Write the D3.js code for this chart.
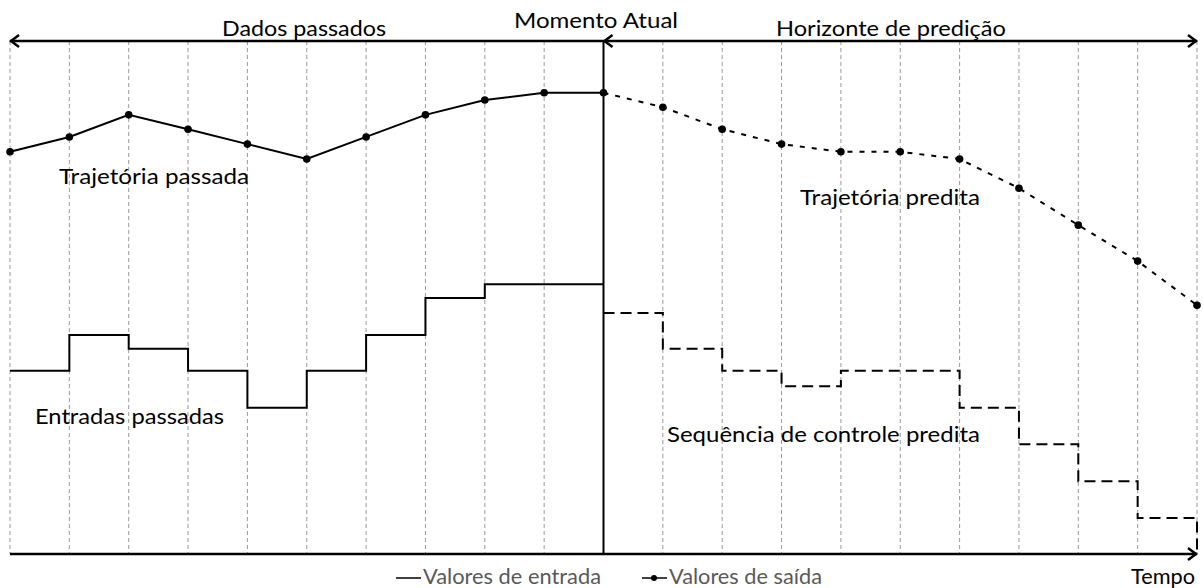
<!DOCTYPE html>
<html>
<head>
<meta charset="utf-8">
<script src="https://cdn.jsdelivr.net/npm/d3@7"></script>
<style>
  html, body { margin: 0; padding: 0; background: #fff; }
  svg text { font-family: Lato, "Open Sans", sans-serif; }
</style>
</head>
<body>
<svg id="chart" width="1203" height="588"></svg>
<script>
// ---- data ----
const steps = d3.range(0, 21);             // time steps k-10 ... k+10
const currentStep = 10;                     // "Momento Atual"
// output trajectory (past: steps 0..10, predicted: 10..20)
const outputPast = [78.4, 81.3, 85.6, 82.8, 79.9, 77.0, 81.3, 85.6, 88.5, 89.9, 89.9];
const outputPred = [89.9, 87.1, 82.8, 79.9, 78.4, 78.4, 77.0, 71.3, 64.1, 57.1, 48.5];
// input sequences (value held over each interval)
const inputPast = [35.7, 42.7, 40.0, 35.7, 28.5, 35.7, 42.7, 49.9, 52.6, 52.6];
const inputPred = [47.0, 40.0, 35.7, 32.7, 35.7, 35.7, 28.5, 21.4, 14.2, 7.0];
const labels = {
  past: "Dados passados", now: "Momento Atual", horizon: "Horizonte de predição",
  trajPast: "Trajetória passada", trajPred: "Trajetória predita",
  inPast: "Entradas passadas", inPred: "Sequência de controle predita",
  legIn: "Valores de entrada", legOut: "Valores de saída", time: "Tempo"
};

// ---- scales ----
const svg = d3.select("#chart");
const x = d3.scaleLinear().domain([0, 20]).range([10, 1197]);
const y = d3.scaleLinear().domain([0, 100]).range([554, 41]);
const yTop = y(100), yAxis = y(0);

// grid lines
svg.append("g").selectAll("line").data(steps).join("line")
  .attr("x1", d => x(d)).attr("x2", d => x(d))
  .attr("y1", yTop).attr("y2", yAxis)
  .attr("stroke", "#9a9a9a").attr("stroke-width", 1)
  .attr("stroke-dasharray", "4,3");

// step-line helper
const stepLine = d3.line().x(d => x(d[0])).y(d => y(d[1])).curve(d3.curveStepAfter);

// past inputs (solid)
const pastInPts = inputPast.map((v, i) => [i, v]).concat([[currentStep, inputPast[inputPast.length - 1]]]);
svg.append("path").attr("d", stepLine(pastInPts))
  .attr("fill", "none").attr("stroke", "#000").attr("stroke-width", 2);

// predicted inputs (dashed)
const predInPts = inputPred.map((v, i) => [currentStep + i, v])
  .concat([[20, inputPred[inputPred.length - 1]]]);
const predPath = stepLine(predInPts) + "V" + y(0);
svg.append("path").attr("d", predPath)
  .attr("fill", "none").attr("stroke", "#000").attr("stroke-width", 2)
  .attr("stroke-dasharray", "11,6");

// output lines
const line = d3.line().x(d => x(d[0])).y(d => y(d[1]));
const pastOut = outputPast.map((v, i) => [i, v]);
const predOut = outputPred.map((v, i) => [currentStep + i, v]);
svg.append("path").attr("d", line(pastOut))
  .attr("fill", "none").attr("stroke", "#000").attr("stroke-width", 2);
svg.append("path").attr("d", line(predOut))
  .attr("fill", "none").attr("stroke", "#000").attr("stroke-width", 2)
  .attr("stroke-dasharray", "5,7");
svg.append("g").selectAll("circle").data(pastOut.concat(predOut.slice(1))).join("circle")
  .attr("cx", d => x(d[0])).attr("cy", d => y(d[1])).attr("r", 3.8).attr("fill", "#000");

// current moment vertical line
svg.append("line").attr("x1", x(currentStep)).attr("x2", x(currentStep))
  .attr("y1", yTop).attr("y2", yAxis).attr("stroke", "#000").attr("stroke-width", 2);

// top arrow
svg.append("line").attr("x1", x(0)).attr("x2", x(20)).attr("y1", yTop).attr("y2", yTop)
  .attr("stroke", "#000").attr("stroke-width", 2.5);
// time axis
svg.append("line").attr("x1", x(0)).attr("x2", x(20)).attr("y1", yAxis).attr("y2", yAxis)
  .attr("stroke", "#000").attr("stroke-width", 2.5);

function chevron(px, py, dir) {
  const s = 8;
  svg.append("path")
    .attr("d", `M${px - dir * s},${py - s * 0.75}L${px},${py}L${px - dir * s},${py + s * 0.75}`)
    .attr("fill", "none").attr("stroke", "#000").attr("stroke-width", 2.5)
    .attr("stroke-linejoin", "miter");
}
chevron(x(0) + 1, yTop, -1);
chevron(x(currentStep) + 1, yTop, -1);
chevron(x(20) - 1, yTop, 1);
chevron(x(20) - 1, yAxis, 1);

// texts
function txt(t, tx, ty, w, opts = {}) {
  return svg.append("text").attr("x", tx).attr("y", ty)
    .attr("font-size", opts.size || 22)
    .attr("fill", opts.color || "#000")
    .attr("textLength", w).attr("lengthAdjust", "spacingAndGlyphs")
    .text(t);
}
txt(labels.past, 222, 36, 164);
txt(labels.now, 514, 28, 164);
txt(labels.horizon, 776, 36, 230);
txt(labels.trajPast, 59, 184, 190);
txt(labels.trajPred, 800, 205, 180);
txt(labels.inPast, 35, 424, 189);
txt(labels.inPred, 667, 442, 313);
txt(labels.time, 1131, 584, 64);

// legend
svg.append("line").attr("x1", 396).attr("x2", 421).attr("y1", 578).attr("y2", 578)
  .attr("stroke", "#000").attr("stroke-width", 1.5);
txt(labels.legIn, 423, 584, 178, {color: "#595959", size: 21});
svg.append("line").attr("x1", 642).attr("x2", 667).attr("y1", 578).attr("y2", 578)
  .attr("stroke", "#000").attr("stroke-width", 1.5);
svg.append("circle").attr("cx", 654).attr("cy", 578).attr("r", 3).attr("fill", "#000");
txt(labels.legOut, 669, 584, 153, {color: "#595959", size: 21});
</script>
</body>
</html>
